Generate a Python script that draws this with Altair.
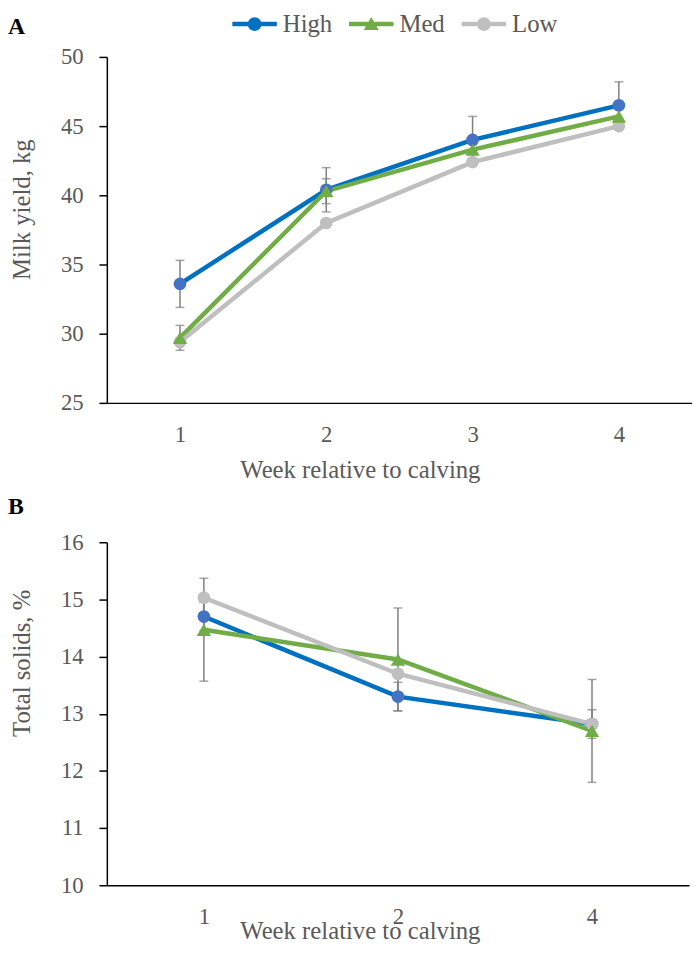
import altair as alt
import pandas as pd

# ---------------- data ----------------
groups = ["High", "Med", "Low"]
panel_letters = ["A", "B"]
x_title = "Week relative to calving"

weeks_a = ["1", "2", "3", "4"]
milk_high = [33.6, 40.4, 44.0, 46.5]
milk_med = [29.7, 40.3, 43.3, 45.7]
milk_low = [29.4, 38.0, 42.4, 45.0]
milk_high_se = [1.7, 1.6, 1.7, 1.7]
milk_med_se = [0.9, 0.9, 0.9, 0.9]

weeks_b = ["1", "2", "4"]
ts_high = [14.7, 13.3, 12.82]
ts_med = [14.47, 13.95, 12.7]
ts_low = [15.03, 13.7, 12.82]
ts_high_se = [0.25, 0.25, 0.25]
ts_med_se = [0.9, 0.9, 0.9]

line_colors = ["#0070C0", "#70AD47", "#BFBFBF"]
marker_colors = ["#4472C4", "#70AD47", "#BFBFBF"]
err_color = "#7F7F7F"
text_color = "#595959"
FONT = "Liberation Serif"


def long_df(weeks, series):
    rows = []
    for g, (vals, ses) in zip(groups, series):
        for i, w in enumerate(weeks):
            se = ses[i] if ses is not None else None
            rows.append({
                "Week": w, "Group": g, "Treatment": g, "Value": vals[i],
                "lo": vals[i] - se if se is not None else None,
                "hi": vals[i] + se if se is not None else None,
            })
    return pd.DataFrame(rows)


df_a = long_df(weeks_a, [(milk_high, milk_high_se), (milk_med, milk_med_se), (milk_low, None)])
df_b = long_df(weeks_b, [(ts_high, ts_high_se), (ts_med, ts_med_se), (ts_low, None)])

# legend symbols: a line with its marker (symbol size 225 -> 7.5 px per unit)
sym_circle = ("M-3,-0.3H3V0.3H-3Z "
              "M-0.93,0A0.93,0.93 0 1,1 0.93,0A0.93,0.93 0 1,1 -0.93,0Z")
sym_tri = "M-3,-0.3H3V0.3H-3Z M0,-0.95L1,0.8L-1,0.8Z"


def panel(df, weeks, ymin, ymax, ystep, ytitle, width, height, letter,
          ytitle_y, xtitle_y, letter_y, with_legend):
    x = alt.X("Week:O", sort=weeks, scale=alt.Scale(type="point", padding=0.5),
              axis=alt.Axis(title=x_title, labelAngle=0, ticks=False,
                            labelPadding=21, labelFontSize=23, labelColor=text_color,
                            labelFont=FONT, titleFont=FONT, titleFontSize=25,
                            titleFontWeight="normal", titleColor=text_color,
                            titleBaseline="alphabetic", titleY=xtitle_y, titleX=256,
                            titleAlign="center", domainColor="#000000", domainWidth=1.5))
    yscale = alt.Scale(domain=[ymin, ymax], nice=False, zero=False)
    yaxis = alt.Axis(title=ytitle, values=list(range(ymin, ymax + 1, ystep)), grid=False,
                     format="d",
                     tickSize=8, tickColor="#000000", tickWidth=1.5, labelPadding=16,
                     labelFontSize=23, labelColor=text_color, labelFont=FONT,
                     titleFont=FONT, titleFontSize=25, titleFontWeight="normal",
                     titleColor=text_color, titleAngle=270, titleBaseline="alphabetic",
                     titleAlign="center", titleX=-78, titleY=ytitle_y,
                     domainColor="#000000", domainWidth=1.5)
    base = alt.Chart(df)
    err = base.transform_filter("datum.lo != null").mark_rule(
        color=err_color, strokeWidth=1.5).encode(
        x=x, y=alt.Y("lo:Q", scale=yscale, axis=yaxis), y2="hi:Q")
    caps = base.transform_filter("datum.lo != null").transform_fold(
        ["lo", "hi"], as_=["end", "v"]).mark_tick(
        color=err_color, thickness=1.5, size=9, orient="horizontal").encode(
        x=x, y=alt.Y("v:Q", scale=yscale))
    color = alt.Color("Group:N", scale=alt.Scale(domain=groups, range=line_colors), legend=None)
    lines = base.mark_line(strokeWidth=4.5).encode(
        x=x, y=alt.Y("Value:Q", scale=yscale), color=color, detail="Group:N",
        order=alt.Order("Week:O"))
    fill = alt.Fill("Group:N", scale=alt.Scale(domain=groups, range=marker_colors), legend=None)
    pts_c = base.transform_filter("datum.Group != 'Med'").mark_point(
        shape="circle", filled=True, size=165, opacity=1).encode(
        x=x, y=alt.Y("Value:Q", scale=yscale), fill=fill)
    pts_t = base.transform_filter("datum.Group == 'Med'").mark_point(
        shape="triangle-up", filled=True, size=210, opacity=1).encode(
        x=x, y=alt.Y("Value:Q", scale=yscale), fill=fill)
    lab = alt.Chart(pd.DataFrame({"letter": [letter]})).mark_text(
        font=FONT, fontSize=24, fontWeight="bold", color="#000000",
        align="left", baseline="alphabetic").encode(
        text="letter:N", x=alt.value(-100), y=alt.value(letter_y))
    layers = [err, caps, lines, pts_c, pts_t, lab]
    if with_legend:
        leg = base.transform_filter("datum.Week == 'none'").mark_point(
            filled=True, opacity=1).encode(
            x=x, y=alt.Y("Value:Q", scale=yscale),
            color=alt.Color("Treatment:N",
                            scale=alt.Scale(domain=groups, range=line_colors),
                            legend=alt.Legend(
                                orient="none", direction="horizontal", title=None,
                                legendX=137, legendY=-46, symbolSize=225,
                                symbolStrokeWidth=0, labelFont=FONT, labelFontSize=25,
                                labelColor=text_color, labelOffset=16, columnPadding=17,
                                symbolOpacity=1)),
            shape=alt.Shape("Treatment:N",
                            scale=alt.Scale(domain=groups,
                                            range=[sym_circle, sym_tri, sym_circle])))
        layers.append(leg)
    ch = alt.layer(*layers).properties(width=width, height=height)
    return ch.resolve_scale(color="independent", shape="independent")


chart_a = panel(df_a, weeks_a, 25, 50, 5, "Milk yield, kg", 592, 350, panel_letters[0],
                154, 75, -23, True)
chart_b = panel(df_b, weeks_b, 10, 16, 1, "Total solids, %", 589, 347, panel_letters[1],
                122, 54, -29, False)

chart = alt.vconcat(chart_a, chart_b, spacing=13).resolve_scale(
    color="independent", fill="independent", shape="independent"
).properties(padding={"left": 0, "top": -2, "right": 0, "bottom": 0}).configure_view(
    stroke=None)

chart.save("out.html", embed_options={"renderer": "svg", "actions": False})
